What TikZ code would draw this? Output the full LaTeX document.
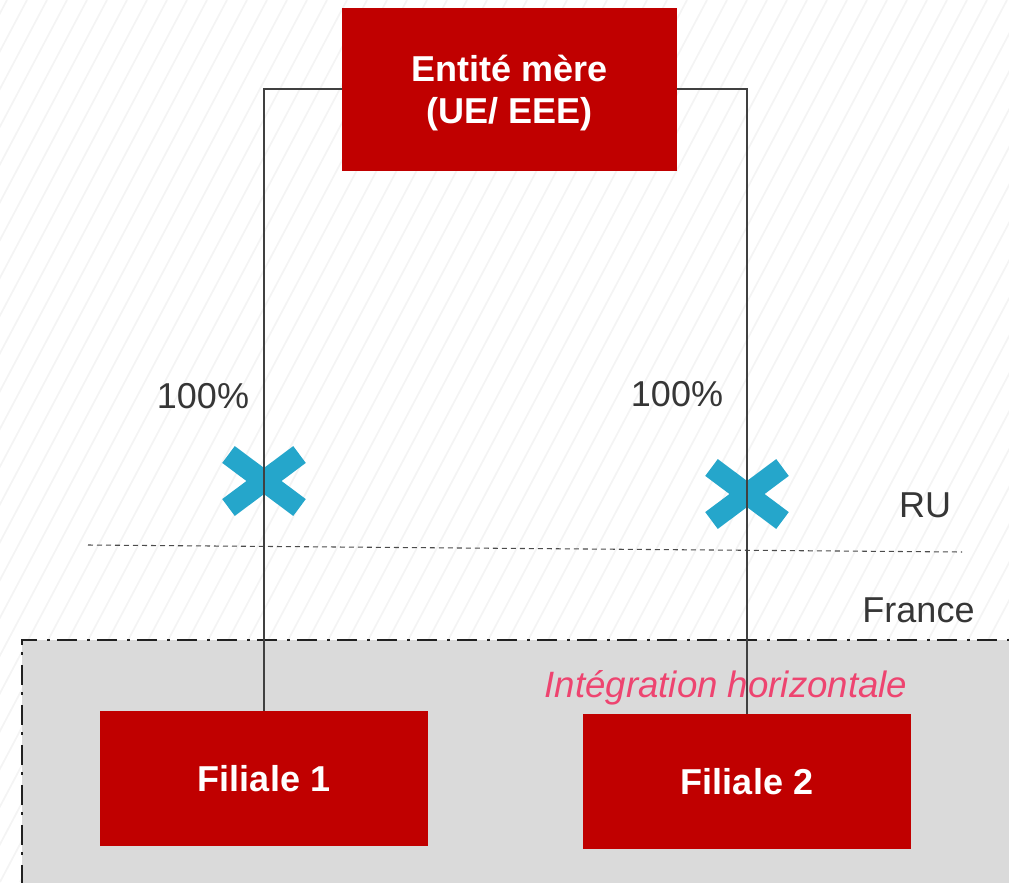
\documentclass[tikz,border=0pt]{standalone}
\usepackage{fontspec}
\setmainfont{Liberation Sans}
\definecolor{boxred}{HTML}{C00000}
\definecolor{bandgray}{HTML}{DADADA}
\definecolor{hatch}{HTML}{F4F4F4}
\definecolor{ink}{HTML}{363636}
\definecolor{crossblue}{HTML}{25A6CB}
\definecolor{accent}{HTML}{EE4470}
\tikzset{
  redbox/.style={fill=boxred, inner sep=0pt},
  boxtext/.style={text=white, font=\bfseries\fontsize{27}{31}\selectfont, align=center, inner sep=0pt},
  label/.style={text=ink, font=\fontsize{27}{30}\selectfont, inner sep=0pt, anchor=base},
  link/.style={draw=black!75, line width=1.1pt},
  border/.style={draw=black!70, line width=0.8pt, dash pattern=on 3.75pt off 3pt},
  bandedge/.style={draw=black!87, line width=2.2pt, dash pattern=on 15pt off 7.5pt on 2pt off 5.5pt},
  blockmark/.pic={\draw[line width=15.75pt, crossblue]
    (-35.5,-26.5) -- (35.5,26.5) (-35.5,26.5) -- (35.5,-26.5);},
}
\begin{document}
\begin{tikzpicture}[x=0.75pt,y=-0.75pt]
\useasboundingbox (0,0) rectangle (1009,882);
% faint diagonal hatching of the background
\begin{scope}
  \clip (0,0) rectangle (1009,882);
  \foreach \i in {-480,-460,...,1020}
    \draw[hatch, line width=1.3pt] (\i,882) -- ++(467,-882);
\end{scope}
% grey band for France
\fill[bandgray] (22,640) rectangle (1015,890);
\draw[bandedge] (22,885) -- (22,640) -- (1015,640);
% border between RU and France
\coordinate (ruL) at (88,545);
\coordinate (ruR) at (962,552);
\draw[border] (ruL) -- (ruR);
% crossed-out links
\pic at (264,481) {blockmark};
\pic at (747,494) {blockmark};
% entities
\node[redbox, minimum width=251.25pt, minimum height=122.25pt] (parent) at (509.5,89) {};
\node[boxtext] (parentText) at (509.5,93) {Entité mère\\(UE/ EEE)};
\node[redbox, minimum width=246pt, minimum height=101.25pt] (f1) at (264,778.5) {};
\node[boxtext] (f1Text) at (f1.center) {Filiale 1};
\node[redbox, minimum width=246pt, minimum height=101.25pt] (f2) at (747,781.5) {};
\node[boxtext] (f2Text) at (f2.center) {Filiale 2};
% ownership links
\draw[link] (parent.west) -| (f1.north);
\draw[link] (parent.east) -| (f2.north);
% labels
\node[label] (pct1) at (203,408) {100\%};
\node[label] (pct2) at (677,406) {100\%};
\node[label] (ru) at (925,517) {RU};
\node[label] (fr) at (918.5,622) {France};
\node[label, text=accent, font=\itshape\fontsize{27.5}{30}\selectfont] (integ) at (726,697) {Intégration horizontale};
\end{tikzpicture}
\end{document}
